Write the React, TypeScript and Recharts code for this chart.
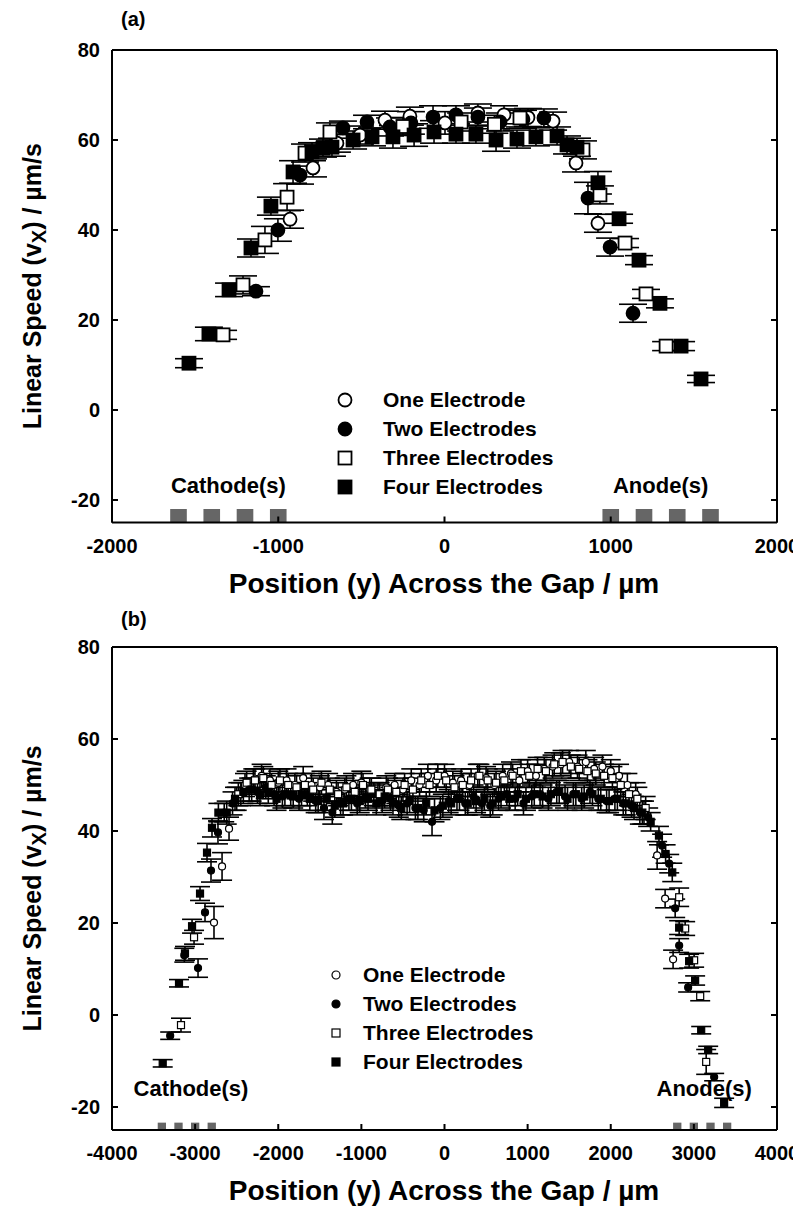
import React from "react";
import {
  ScatterChart,
  Scatter,
  XAxis,
  YAxis,
  ErrorBar,
  ReferenceArea,
  ReferenceDot,
  Legend,
} from "recharts";

const FONT = "'Liberation Sans', Arial, Helvetica, sans-serif";

const SERIES_NAMES = ["One Electrode", "Two Electrodes", "Three Electrodes", "Four Electrodes"];
const Y_TICKS = [-20, 0, 20, 40, 60, 80];
const A_X_TICKS = [-2000, -1000, 0, 1000, 2000];
const B_X_TICKS = [-4000, -3000, -2000, -1000, 0, 1000, 2000, 3000, 4000];

// electrode pad centres (µm)
const A_CATHODES = [-1600, -1400, -1200, -1000];
const A_ANODES = [1000, 1200, 1400, 1600];
const B_CATHODES = [-3400, -3200, -3000, -2800];
const B_ANODES = [2800, 3000, 3200, 3400];

// panel (a): [position, speed, error]
const aOne: number[][] = [
  [-929, 42.4, 2], [-791, 53.8, 2], [-647, 59.3, 2], [-508, 61.1, 2], [-358, 64.4, 2],
  [-208, 65.3, 2], [3, 63.8, 2.5], [201, 66, 2], [358, 65.6, 2], [502, 65, 2],
  [653, 64.2, 2], [791, 54.9, 2], [923, 41.5, 2],
];
const aTwo: number[][] = [
  [-1134, 26.4, 1], [-1002, 40, 2.5], [-869, 52.2, 2], [-611, 62.7, 1.5], [-466, 64, 1.5],
  [-328, 62.9, 2], [-202, 63.8, 2.5], [-69, 65.1, 2.5], [69, 65.6, 2], [201, 65.1, 2],
  [334, 64, 2], [472, 64.6, 2], [598, 64.9, 2], [863, 47.1, 3.5], [996, 36.2, 2], [1134, 21.5, 2],
];
const aThree: number[][] = [
  [-1332, 16.7, 1], [-1212, 27.8, 2], [-1080, 37.8, 3], [-947, 47.3, 3], [-839, 57.1, 2],
  [-689, 61.8, 2], [-250, 63, 2], [100, 64, 2], [300, 63.5, 2], [454, 64.9, 2],
  [833, 57.8, 2], [935, 47.8, 2], [1086, 37.1, 1], [1212, 25.8, 1], [1333, 14.2, 1],
];
const aFour: number[][] = [
  [-1537, 10.4, 1], [-1417, 16.9, 1.5], [-1296, 26.7, 1.5], [-1164, 36, 2], [-1044, 45.3, 2],
  [-911, 52.9, 2.5], [-797, 57.4, 2], [-731, 58.2, 2], [-677, 58.4, 2], [-550, 60, 2],
  [-436, 60.7, 2], [-310, 60.7, 2.5], [-183, 61.1, 2.5], [-63, 61.8, 2.5], [69, 61.3, 2],
  [189, 61.3, 2], [310, 60, 2.5], [436, 60.2, 2], [550, 60.7, 2], [677, 60.9, 2],
  [737, 58.9, 2], [797, 58.4, 2], [923, 50.5, 2.5], [1050, 42.5, 1], [1170, 33.3, 1],
  [1296, 23.7, 1], [1423, 14.2, 1], [1543, 6.9, 0.8],
];

// panel (b): [position, speed, error]
const bOne: number[][] = [
  [-2773, 20.1, 3.5], [-2676, 32.3, 3], [-2592, 40.5, 2.5],
  [-2500, 47, 2.5], [-2400, 50, 2.5], [-2300, 51, 2.5], [-2200, 52, 2.5], [-2100, 51, 2.5],
  [-2000, 50.5, 2.5], [-1900, 51, 2.5], [-1800, 50, 2.5], [-1700, 51.5, 2.5], [-1600, 50, 2.5],
  [-1500, 49.5, 2.5], [-1400, 50, 2.5], [-1300, 48.5, 2.5], [-1200, 49, 2.5], [-1100, 50, 2.5],
  [-1000, 50.5, 2.5], [-900, 49, 2.5], [-800, 48, 2.5], [-700, 49.5, 2.5], [-600, 50, 2.5],
  [-500, 49, 2.5], [-400, 51, 2.5], [-300, 50, 2.5], [-200, 52, 2.5], [-100, 51, 2.5],
  [0, 52, 2.5], [100, 50.5, 2.5], [200, 51, 2.5], [300, 50, 2.5], [400, 52, 2.5],
  [500, 51.5, 2.5], [600, 50, 2.5], [700, 52, 2.5], [800, 52.5, 2.5], [900, 51, 2.5],
  [1000, 53, 2.5], [1100, 52, 2.5], [1200, 53.5, 2.5], [1300, 54, 2.5], [1400, 54.5, 2.5],
  [1500, 55, 2.5], [1600, 54, 2.5], [1700, 55, 2.5], [1800, 53.5, 2.5], [1900, 54, 2.5],
  [2000, 53, 2.5], [2100, 52, 2.5], [2200, 50, 2.5], [2300, 48, 2.5], [2400, 44, 2.5],
  [2558, 34.7, 3], [2654, 25.3, 2], [2750, 12.1, 2],
];
const bTwo: number[][] = [
  [-3300, -4.5, 0.8], [-3130, 13, 1.5], [-2965, 10.2, 2], [-2881, 22.3, 2], [-2809, 31.4, 2.5],
  [-2725, 39.7, 2.5], [-2650, 44, 2],
  [-2550, 46, 2.5], [-2450, 48, 2.5], [-2350, 49, 2.5], [-2250, 48.5, 2.5], [-2150, 49.5, 2.5],
  [-2050, 48, 2.5], [-1950, 47.5, 2.5], [-1850, 48, 2.5], [-1750, 47, 2.5], [-1650, 48, 2.5],
  [-1550, 46.5, 2.5], [-1450, 45, 2.5], [-1350, 44, 2.5], [-1250, 46, 2.5], [-1150, 47, 2.5],
  [-1050, 46, 2.5], [-950, 47.5, 2.5], [-850, 48, 2.5], [-750, 46.5, 2.5], [-650, 47, 2.5],
  [-550, 45.5, 2.5], [-450, 46, 2.5], [-350, 45, 2.5], [-250, 44.5, 2.5], [-150, 42, 3],
  [-50, 45, 2.5], [50, 46.5, 2.5], [150, 47, 2.5], [250, 46, 2.5], [350, 47.5, 2.5],
  [450, 46, 2.5], [550, 45.5, 2.5], [650, 47, 2.5], [750, 48, 2.5], [850, 47, 2.5],
  [950, 46, 2.5], [1050, 47.5, 2.5], [1150, 48, 2.5], [1250, 47, 2.5], [1350, 48.5, 2.5],
  [1450, 47.5, 2.5], [1550, 48, 2.5], [1650, 47, 2.5], [1750, 48.5, 2.5], [1850, 47, 2.5],
  [1950, 46.5, 2.5], [2050, 47, 2.5], [2150, 46, 2.5], [2250, 45.5, 2.5], [2350, 44, 2.5],
  [2450, 43, 2], [2618, 36.8, 2.5], [2703, 32.9, 2], [2775, 23.2, 2], [2823, 15.1, 1.5],
  [2931, 6.0, 1], [3244, -13.5, 0.8],
];
const bThree: number[][] = [
  [-3170, -2.2, 1.5], [-3013, 16.9, 1.5],
  [-2480, 48, 2.5], [-2380, 50.5, 2.5], [-2280, 51, 2.5], [-2180, 51.5, 2.5], [-2080, 50, 2.5],
  [-1980, 51, 2.5], [-1880, 50, 2.5], [-1780, 49.5, 2.5], [-1680, 50, 2.5], [-1580, 49, 2.5],
  [-1480, 50.5, 2.5], [-1380, 49, 2.5], [-1280, 48, 2.5], [-1180, 49.5, 2.5], [-1080, 48.5, 2.5],
  [-980, 50, 2.5], [-880, 49, 2.5], [-780, 48, 2.5], [-680, 49, 2.5], [-580, 48.5, 2.5],
  [-480, 50, 2.5], [-380, 49, 2.5], [-280, 51, 2.5], [-180, 50, 2.5], [-80, 52, 2.5],
  [20, 51, 2.5], [120, 49.5, 2.5], [220, 50, 2.5], [320, 51, 2.5], [420, 52, 2.5],
  [520, 51, 2.5], [620, 50.5, 2.5], [720, 51, 2.5], [820, 52, 2.5], [920, 53, 2.5],
  [1020, 52, 2.5], [1120, 53.5, 2.5], [1220, 53, 2.5], [1320, 54.5, 2.5], [1420, 55, 2.5],
  [1520, 54, 2.5], [1620, 53.5, 2.5], [1720, 53, 2.5], [1820, 52.5, 2.5], [1920, 52, 2.5],
  [2020, 51.5, 2.5], [2120, 50, 2.5], [2220, 48, 2.5], [2320, 47, 2.5], [2420, 45, 2.5],
  [2823, 25.6, 2], [2895, 18.8, 1.5], [3003, 11.9, 1.5], [3076, 4.1, 1], [3148, -10.2, 2.7],
];
const bFour: number[][] = [
  [-3390, -10.5, 0.8], [-3194, 6.9, 0.8], [-3122, 13.4, 1.5], [-3037, 19.3, 1.5], [-2941, 26.4, 1.5],
  [-2857, 35.3, 2], [-2797, 40.7, 2], [-2720, 44, 2],
  [-2620, 44, 2.5], [-2520, 47, 2.5], [-2420, 48.5, 2.5], [-2320, 49, 2.5], [-2220, 48, 2.5],
  [-2120, 48.5, 2.5], [-2020, 47, 2.5], [-1920, 48, 2.5], [-1820, 47.5, 2.5], [-1720, 48, 2.5],
  [-1620, 47, 2.5], [-1520, 46.5, 2.5], [-1420, 47, 2.5], [-1320, 45.5, 2.5], [-1220, 46, 2.5],
  [-1120, 47, 2.5], [-1020, 46.5, 2.5], [-920, 47, 2.5], [-820, 46, 2.5], [-720, 47.5, 2.5],
  [-620, 46, 2.5], [-520, 45, 2.5], [-420, 46.5, 2.5], [-320, 45, 2.5], [-220, 46, 2.5],
  [-120, 44.5, 2.5], [-20, 45.5, 2.5], [80, 46, 2.5], [180, 47, 2.5], [280, 46, 2.5],
  [380, 46.5, 2.5], [480, 47, 2.5], [580, 46, 2.5], [680, 47.5, 2.5], [780, 47, 2.5],
  [880, 48, 2.5], [980, 47, 2.5], [1080, 48, 2.5], [1180, 47.5, 2.5], [1280, 48, 2.5],
  [1380, 48.5, 2.5], [1480, 47, 2.5], [1580, 48, 2.5], [1680, 47.5, 2.5], [1780, 48, 2.5],
  [1880, 47, 2.5], [1980, 46.5, 2.5], [2080, 47, 2.5], [2180, 46, 2.5], [2280, 45, 2.5],
  [2380, 44, 2.5], [2480, 42, 2], [2580, 39, 2], [2660, 35, 2], [2740, 31, 2],
  [2823, 19.0, 1.5], [2943, 11.7, 1.5], [3015, 7.5, 1], [3088, -3.3, 0.8], [3172, -7.6, 0.8],
  [3364, -19.1, 1],
];

const toPoints = (rows: number[][]) => rows.map(([x, y, e]) => ({ x, y, e }));

// marker: 0 open circle, 1 filled circle, 2 open square, 3 filled square
function Marker({ kind, cx, cy, s }: { kind: number; cx: number; cy: number; s: number }) {
  const fill = kind % 2 === 1 ? "#000" : "#fff";
  const sw = s > 10 ? 1.8 : 1.2;
  if (kind < 2) return <circle cx={cx} cy={cy} r={s / 2} fill={fill} stroke="#000" strokeWidth={sw} />;
  return (
    <rect x={cx - s / 2} y={cy - s / 2} width={s} height={s} fill={fill} stroke="#000" strokeWidth={sw} />
  );
}

const shapeFor = (kind: number, s: number) => (p: any) =>
  <Marker kind={kind} cx={p.cx} cy={p.cy} s={s} />;

function LegendBox({ size, markerW }: { size: number; markerW: number }) {
  return (
    <div style={{ fontFamily: FONT, fontWeight: 700, fontSize: 21, color: "#000" }}>
      {SERIES_NAMES.map((name, i) => (
        <div key={name} style={{ display: "flex", alignItems: "center", height: 29 }}>
          <svg width={markerW} height={20} style={{ flex: "none" }}>
            <Marker kind={i} cx={10} cy={10} s={size} />
          </svg>
          <span>{name}</span>
        </div>
      ))}
    </div>
  );
}

function YTitle({ px, py }: { px: number; py: number }) {
  return (
    <text
      x={px}
      y={py}
      transform={`rotate(-90 ${px} ${py})`}
      textAnchor="middle"
      dominantBaseline="central"
      fontFamily={FONT}
      fontWeight={700}
      fontSize={25}
      fill="#000"
    >
      Linear Speed (v<tspan fontSize={20} dy={7}>X</tspan>
      <tspan dy={-7}>) / µm/s</tspan>
    </text>
  );
}

function XTitle({ px, py }: { px: number; py: number }) {
  return (
    <text x={px} y={py} textAnchor="middle" dominantBaseline="central" fontFamily={FONT}
      fontWeight={700} fontSize={28} fill="#000">
      Position (y) Across the Gap / µm
    </text>
  );
}

const tickStyle = { fill: "#000", fontSize: 20, fontWeight: 700, fontFamily: FONT };
const axisLine = { stroke: "#000", strokeWidth: 2 };
const tickLine = { stroke: "#000", strokeWidth: 2 };
const padLabel = { fill: "#000", fontSize: 22, fontWeight: 700, fontFamily: FONT };

interface PanelProps {
  tag: string;
  height: number;
  topH: number;
  bottomH: number;
  xDomain: [number, number];
  xTicks: number[];
  series: number[][][];
  markerSize: number;
  capWidth: number;
  cathodes: number[];
  anodes: number[];
  padHalf: number;
  padTop: number;
  labelY: number;
  cathodeX: number;
  anodeX: number;
  legendPos: { left: number; top: number };
  legendSize: number;
  legendW: number;
  xTitleY: number;
}

function Panel(p: PanelProps) {
  const plotMid = (p.topH + (p.height - p.bottomH)) / 2;
  return (
    <div style={{ position: "relative", width: 801, height: p.height }}>
      <ScatterChart width={801} height={p.height} margin={{ top: 0, right: 0, bottom: 0, left: 0 }}>
        <XAxis
          xAxisId={0}
          type="number"
          dataKey="x"
          domain={p.xDomain}
          allowDataOverflow
          ticks={p.xTicks}
          height={p.bottomH}
          axisLine={axisLine}
          tickLine={tickLine}
          tickSize={-6}
          tickMargin={22}
          tick={tickStyle}
          label={<XTitle px={444} py={p.xTitleY} />}
        />
        <XAxis
          xAxisId="top"
          orientation="top"
          type="number"
          domain={p.xDomain}
          allowDataOverflow
          ticks={p.xTicks}
          height={p.topH}
          axisLine={axisLine}
          tickLine={tickLine}
          tickSize={-6}
          tickFormatter={() => ""}
        />
        <YAxis
          yAxisId={0}
          type="number"
          dataKey="y"
          domain={[-25, 80]}
          allowDataOverflow
          ticks={Y_TICKS}
          width={112}
          axisLine={axisLine}
          tickLine={tickLine}
          tickSize={-6}
          tickMargin={18}
          tick={tickStyle}
          label={<YTitle px={32} py={plotMid} />}
        />
        <YAxis
          yAxisId="right"
          orientation="right"
          type="number"
          domain={[-25, 80]}
          allowDataOverflow
          ticks={Y_TICKS}
          width={24}
          axisLine={axisLine}
          tickLine={tickLine}
          tickSize={-6}
          tickFormatter={() => ""}
        />
        {[...p.cathodes, ...p.anodes].map((c) => (
          <ReferenceArea
            key={c}
            x1={c - p.padHalf}
            x2={c + p.padHalf}
            y1={-25}
            y2={p.padTop}
            fill="#666"
            fillOpacity={1}
            stroke="none"
          />
        ))}
        <ReferenceDot
          x={p.cathodeX}
          y={p.labelY}
          r={0}
          stroke="none"
          label={{ value: "Cathode(s)", position: "center", ...padLabel }}
        />
        <ReferenceDot
          x={p.anodeX}
          y={p.labelY}
          r={0}
          stroke="none"
          label={{ value: "Anode(s)", position: "center", ...padLabel }}
        />
        {p.series.map((rows, i) => (
          <Scatter
            key={SERIES_NAMES[i]}
            name={SERIES_NAMES[i]}
            data={toPoints(rows)}
            shape={shapeFor(i, p.markerSize)}
            isAnimationActive={false}
          >
            <ErrorBar dataKey="e" direction="y" width={p.capWidth} stroke="#000" strokeWidth={1.6} />
          </Scatter>
        ))}
        <Legend
          layout="vertical"
          align="center"
          verticalAlign="middle"
          wrapperStyle={{ left: p.legendPos.left, top: p.legendPos.top, width: "auto", right: "auto", bottom: "auto" }}
          content={() => <LegendBox size={p.legendSize} markerW={p.legendW} />}
        />
      </ScatterChart>
      <div
        style={{
          position: "absolute",
          left: 121,
          top: 8,
          fontFamily: FONT,
          fontWeight: 700,
          fontSize: 20,
        }}
      >
        {p.tag}
      </div>
    </div>
  );
}

export default function App() {
  return (
    <div style={{ width: 801, height: 1219, margin: -8, background: "#fff", overflow: "hidden" }}>
      <Panel
        tag="(a)"
        height={600}
        topH={50}
        bottomH={77.5}
        xDomain={[-2000, 2000]}
        xTicks={A_X_TICKS}
        series={[aOne, aTwo, aThree, aFour]}
        markerSize={13}
        capWidth={14}
        cathodes={A_CATHODES}
        anodes={A_ANODES}
        padHalf={50}
        padTop={-22}
        labelY={-16.7}
        cathodeX={-1300}
        anodeX={1300}
        legendPos={{ left: 335, top: 385 }}
        legendSize={13}
        legendW={48}
        xTitleY={583}
      />
      <Panel
        tag="(b)"
        height={619}
        topH={47}
        bottomH={89}
        xDomain={[-4000, 4000]}
        xTicks={B_X_TICKS}
        series={[bOne, bTwo, bThree, bFour]}
        markerSize={7}
        capWidth={10}
        cathodes={B_CATHODES}
        anodes={B_ANODES}
        padHalf={50}
        padTop={-23.4}
        labelY={-16}
        cathodeX={-3050}
        anodeX={3124}
        legendPos={{ left: 326, top: 360 }}
        legendSize={8}
        legendW={37}
        xTitleY={590}
      />
    </div>
  );
}
